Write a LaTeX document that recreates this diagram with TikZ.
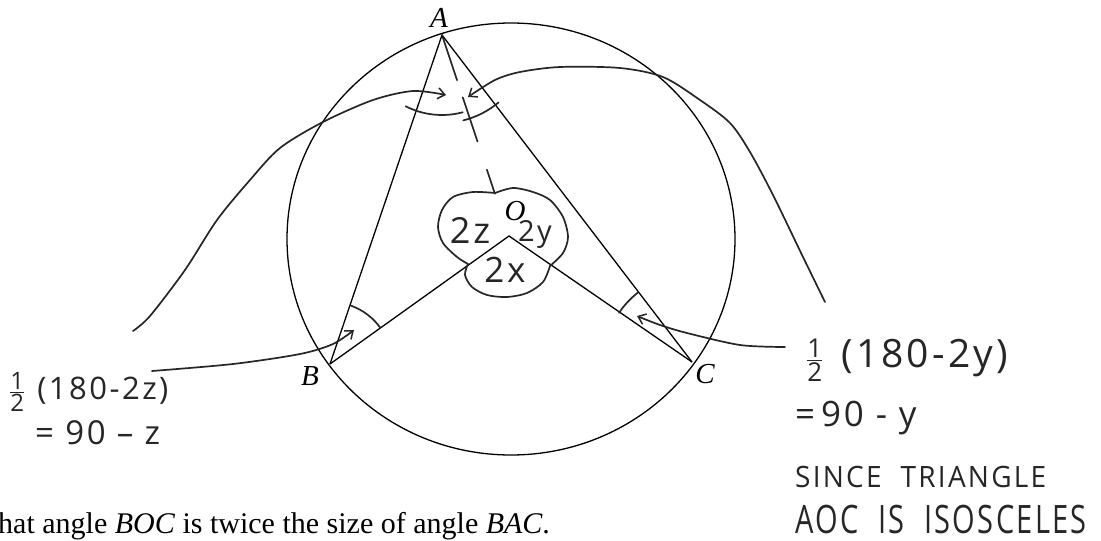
\documentclass[tikz,border=0pt]{standalone}
\usepackage{amsmath}
\usepackage{fontspec}
\setmainfont{Liberation Serif}
\newfontfamily\handfont{Open Sans}[LetterSpace=8]
\usetikzlibrary{arrows.meta,calc}
\newcommand{\handhalf}[1]{\(\frac{\mbox{\fontsize{#1}{#1}\selectfont 1}}{\mbox{\fontsize{#1}{#1}\selectfont 2}}\)}
\begin{document}
\begin{tikzpicture}[x=1pt,y=-1pt,
  printed/.style={line width=1.3pt, black},
  hand/.style={line width=1.7pt, black!85, line cap=round, line join=round},
  handarrow/.style={hand, -{Straight Barb[length=7pt,width=11pt,line width=1.5pt]}},
  lbl/.style={font=\fontsize{29}{31}\selectfont\itshape, inner sep=0pt},
  handtxt/.style={inner sep=0pt, anchor=west, black!85},
]
\useasboundingbox (0,0) rectangle (1101,541);
\clip (0,0) rectangle (1101,541);

% printed figure
\coordinate (A) at (442,35);
\coordinate (B) at (330,364);
\coordinate (C) at (692,362);
\coordinate (O) at (509,236);
\coordinate (ctr) at (511,239);
\draw[printed] (ctr) ellipse [x radius=224pt, y radius=216pt];
\draw[printed] (B) -- (A) -- (C);
\draw[printed] (B) -- (O) -- (C);

\node[lbl] (Al) at (439,18) {A};
\node[lbl] (Bl) at (310,376) {B};
\node[lbl] (Cl) at (705,374) {C};
\node[lbl] (Ol) at (515,211) {O};

\node[anchor=base west, inner sep=0pt, font=\fontsize{30}{32}\selectfont] (stmt) at (-2,533)
  {hat angle \textit{BOC} is twice the size of angle \textit{BAC}.};

% handwritten dashed line A to O
\draw[hand] (A) -- ($(A)!0.225!(O)$);
\draw[hand] ($(A)!0.31!(O)$) -- ($(A)!0.53!(O)$);
\draw[hand] ($(A)!0.67!(O)$) -- ($(A)!0.79!(O)$);

% loop around O
\draw[hand] plot[smooth] coordinates {(495,193) (473,192) (453,197) (442,210) (438,227) (443,243) (457,257) (468,264)};
\draw[hand] plot[smooth] coordinates {(468,264) (465,275) (472,287) (487,295) (507,297) (527,293) (543,282) (550,266)};
\draw[hand] plot[smooth] coordinates {(550,266) (563,253) (568,237) (563,217) (550,200) (533,192) (513,188) (495,193)};

\node[handtxt, anchor=center, font=\handfont\fontsize{36}{38}\selectfont] (z2) at (470,230) {2z};
\node[handtxt, anchor=center, font=\handfont\fontsize{29}{31}\selectfont] (y2) at (535,234) {2y};
\node[handtxt, anchor=center, font=\handfont\fontsize{35}{37}\selectfont] (x2) at (505,270) {2x};

% angle arcs
\draw[hand] ($(A)+(243:80pt)$) arc[start angle=243, end angle=285, radius=80pt];
\draw[hand] ($(A)+(284:88pt)$) arc[start angle=284, end angle=310, radius=88pt];
\draw[hand] ($(B)+(36:62pt)$) arc[start angle=36, end angle=70, radius=62pt];
\draw[hand] ($(C)+(128:88pt)$) arc[start angle=128, end angle=146, radius=88pt];

% handwritten labels
\node[handtxt, font=\handfont\fontsize{31}{33}\selectfont] (lz1) at (9,392) {\handhalf{24}\hspace{12pt}(180-2z)};
\node[handtxt, font=\handfont\fontsize{33}{35}\selectfont] (lz2) at (35,433) {= 90 – z};
\node[handtxt, font=\handfont\fontsize{39}{41}\selectfont] (ry1) at (806,360) {\handhalf{26}\hspace{18pt}(180-2y)};
\node[handtxt, font=\handfont\fontsize{35}{37}\selectfont] (ry2) at (795,418) {=\,90 - y};
\node[handtxt, font=\handfont\fontsize{28}{30}\selectfont] (ry3) at (795,477) {\scalebox{1}[1.05]{SINCE\ \ TRIANGLE}};
\node[handtxt, font=\handfont\fontsize{29}{31}\selectfont] (ry4) at (795,519) {\scalebox{1}[1.35]{AOC\ \ IS\ \ ISOSCELES}};

% handwritten connectors
\coordinate (lA0) at (133,331);
\coordinate (rA0) at (825,302);
\coordinate (lB0) at (152,371);
\coordinate (rC0) at (785,347);
\coordinate (tA1) at (446,95);
\coordinate (tA2) at (468,97);
\coordinate (tB) at (354,330);
\coordinate (tC) at (637,316);
\draw[handarrow] plot[smooth] coordinates {(lA0) (150,316) (185,270) (217,220) (250,180) (280,148) (323,122) (373,100) (413,91) (tA1)};
\draw[handarrow] plot[smooth] coordinates {(rA0) (803,257) (773,195) (750,152) (730,123) (700,100) (663,77) (620,68) (560,67) (520,72) (495,80) (tA2)};
\draw[handarrow] plot[smooth] coordinates {(lB0) (233,364) (300,354) (333,344) (tB)};
\draw[handarrow] plot[smooth] coordinates {(rC0) (740,345) (687,333) (660,325) (tC)};
\end{tikzpicture}
\end{document}
